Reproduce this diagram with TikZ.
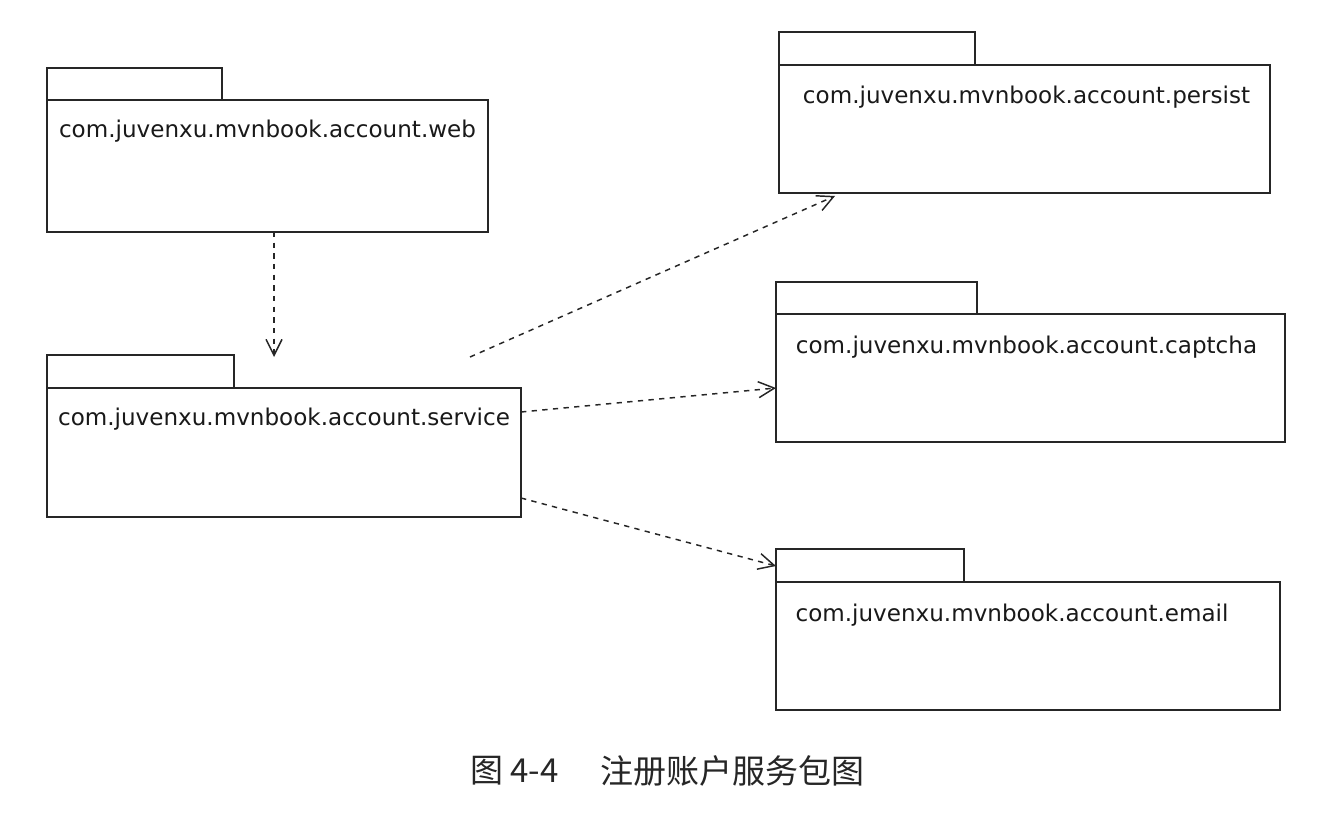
\documentclass[tikz,border=0pt]{standalone}
\usepackage{fontspec}
\setmainfont{DejaVu Sans}
\newfontfamily\cjk{Noto Sans CJK SC}
\usetikzlibrary{arrows.meta,calc}
\begin{document}
\begin{tikzpicture}[x=0.75pt,y=-0.75pt,
  box/.style={draw=black!85, line width=1.3pt, fill=white, inner sep=0pt, outer sep=0pt, anchor=north west},
  pkgname/.style={font=\fontsize{17.3}{20}\selectfont, text=black!90, inner sep=0pt, anchor=base},
  dep/.style={draw=black!85, line width=1.1pt, dash pattern=on 4pt off 4pt, -{Straight Barb[length=12pt,width=12pt]}},
  captext/.style={font=\cjk\fontsize{24.75}{28}\selectfont, inner sep=0pt, text=black!85, anchor=west}]
\useasboundingbox (0,0) rectangle (1336,820);
\fill[white] (0,0) rectangle (1336,820);

% web package
\node[box, minimum width=175*0.75pt, minimum height=32*0.75pt] (webtab) at (47,68) {};
\node[box, minimum width=441*0.75pt, minimum height=132*0.75pt] (web) at (47,100) {};
\node[pkgname] (webname) at ($(web.north)+(0,38)$) {com.juvenxu.mvnbook.account.web};

% service package
\node[box, minimum width=187*0.75pt, minimum height=33*0.75pt] (servicetab) at (47,355) {};
\node[box, minimum width=474*0.75pt, minimum height=129*0.75pt] (service) at (47,388) {};
\node[pkgname] (servicename) at ($(service.north)+(0,37)$) {com.juvenxu.mvnbook.account.service};

% persist package
\node[box, minimum width=196*0.75pt, minimum height=33*0.75pt] (persisttab) at (779,32) {};
\node[box, minimum width=491*0.75pt, minimum height=128*0.75pt] (persist) at (779,65) {};
\node[pkgname] (persistname) at ($(persist.north)+(2,39)$) {com.juvenxu.mvnbook.account.persist};

% captcha package
\node[box, minimum width=201*0.75pt, minimum height=32*0.75pt] (captchatab) at (776,282) {};
\node[box, minimum width=509*0.75pt, minimum height=128*0.75pt] (captcha) at (776,314) {};
\node[pkgname] (captchaname) at ($(captcha.north)+(-4,39)$) {com.juvenxu.mvnbook.account.captcha};

% email package
\node[box, minimum width=188*0.75pt, minimum height=33*0.75pt] (emailtab) at (776,549) {};
\node[box, minimum width=504*0.75pt, minimum height=128*0.75pt] (email) at (776,582) {};
\node[pkgname] (emailname) at ($(email.north)+(-16,39)$) {com.juvenxu.mvnbook.account.email};

% dependencies
\coordinate (a1) at (274,357);
\draw[dep] (a1 |- web.south) -- (a1);
\coordinate (a2s) at (470,357);
\draw[dep] (a2s) -- ($(persist.south west)+(56,3)$);
\draw[dep] ($(service.north east)+(0,24)$) -- ($(captcha.north west)+(0,74)$);
\draw[dep] ($(service.south east)+(0,-19)$) -- ($(emailtab.south west)+(0,-16)$);

% caption
\node[captext] (fig) at (470,771) {图 4-4};
\node[captext] (title) at (600,771) {注册账户服务包图};
\end{tikzpicture}
\end{document}
